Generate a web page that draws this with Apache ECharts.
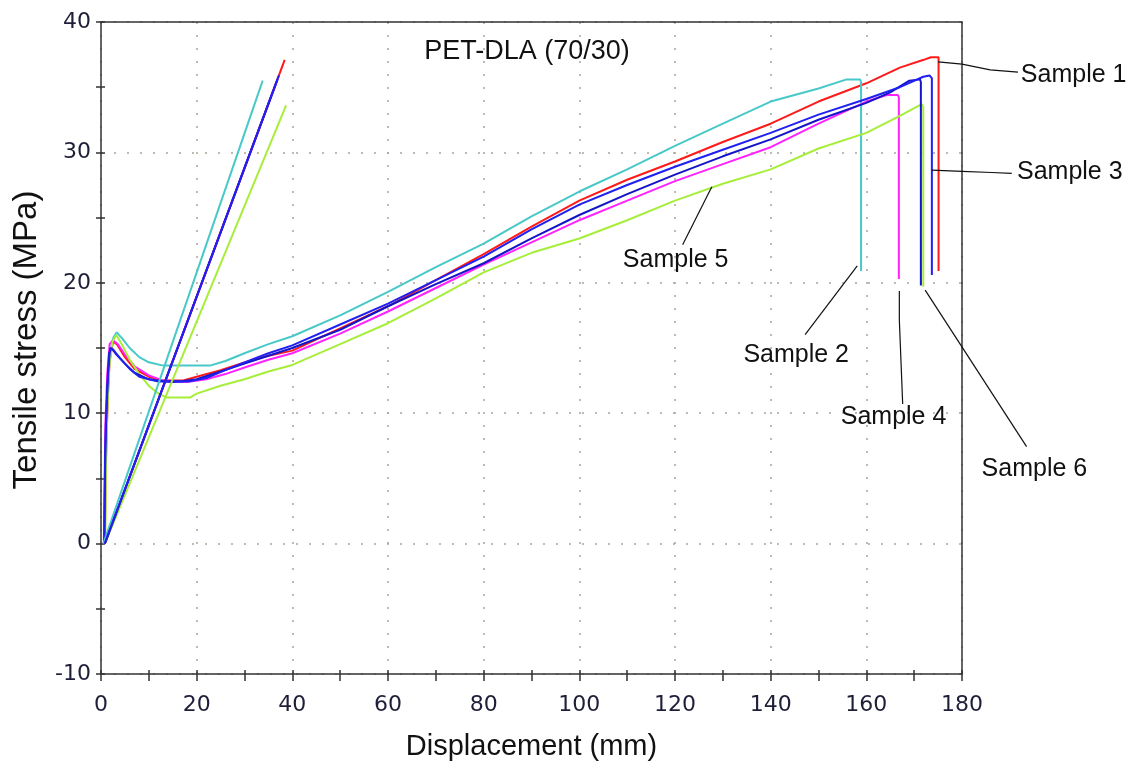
<!DOCTYPE html>
<html>
<head>
<meta charset="utf-8">
<script src="https://cdn.jsdelivr.net/npm/echarts@6/dist/echarts.min.js"></script>
<style>
  html, body { margin: 0; padding: 0; background: #ffffff; }
  #chart { width: 1127px; height: 766px; }
</style>
</head>
<body>
<div id="chart"></div>
<script>
// Tensile test, PET-DLA (70/30): stress (MPa) against displacement (mm), six specimens.
const chartTitle = 'PET-DLA (70/30)';
const xName = 'Displacement (mm)';
const yName = 'Tensile stress (MPa)';
const xRange = [0, 180];
const yRange = [-10, 40];

const sampleNames = ['Sample 1', 'Sample 2', 'Sample 3', 'Sample 4', 'Sample 5', 'Sample 6'];

// Measured curves [displacement, stress]
const curve1 = [[0.8,0],[1.0,6],[1.4,11],[1.8,14],[2.5,15.5],[3.3,15.3],[5,14.3],[7,13.4],[10,12.8],[13,12.5],[17,12.5],[20,12.8],[25,13.3],[30,13.9],[35,14.4],[40,14.8],[50,16.5],[60,18.2],[70,20.2],[80,22.2],[90,24.3],[100,26.3],[110,27.9],[120,29.3],[130,30.8],[140,32.2],[150,33.9],[160,35.3],[167,36.5],[172,37.1],[173.5,37.3],[175.1,37.3],[175.1,20.9]];
const curve2 = [[0.6,0],[0.9,6],[1.3,11],[1.8,14.5],[2.6,15.8],[3.3,16.2],[4.5,15.7],[6,15],[8,14.3],[10,13.9],[13,13.65],[18,13.65],[22.8,13.65],[26,14.0],[30,14.6],[35,15.3],[40,15.9],[50,17.5],[60,19.3],[70,21.2],[80,23.0],[90,25.1],[100,27.0],[110,28.7],[120,30.5],[130,32.2],[140,33.9],[150,34.9],[155.9,35.6],[158.7,35.6],[158.9,35.4],[158.9,20.9]];
const curve3 = [[0.7,0],[0.8,5],[1.0,9],[1.5,13],[1.9,15.0],[2.5,14.9],[4,14.2],[6,13.4],[8,12.8],[11.7,12.45],[15,12.4],[18.6,12.45],[22,12.7],[26,13.3],[30,13.9],[35,14.6],[40,15.2],[50,16.8],[60,18.4],[70,20.2],[80,22.0],[90,24.1],[100,26.0],[110,27.5],[120,28.9],[130,30.2],[140,31.5],[150,32.9],[160,34.1],[167,35.0],[171.9,35.8],[173.2,35.9],[173.7,35.7],[173.7,20.6]];
const curve4 = [[0.6,0],[0.7,3],[0.9,9],[1.3,13],[1.8,15.3],[2.5,15.6],[3.5,15.3],[5,14.5],[7,13.6],[10,12.9],[13,12.5],[18,12.4],[22,12.6],[26,13.0],[30,13.5],[35,14.1],[40,14.6],[50,16.1],[60,17.8],[70,19.6],[80,21.4],[90,23.1],[100,24.8],[110,26.3],[120,27.8],[130,29.1],[140,30.4],[150,32.2],[160,33.9],[164.3,34.4],[166.6,34.4],[166.8,34.2],[166.8,20.3]];
const curve5 = [[0.9,0],[1.0,5],[1.3,10],[1.7,13.5],[2.4,15.5],[3.2,16.0],[4.5,15.2],[6,14.1],[8,13],[10,12.1],[12,11.5],[13.8,11.2],[18.6,11.2],[20,11.5],[25,12.1],[30,12.6],[35,13.2],[40,13.7],[50,15.3],[60,16.9],[70,18.8],[80,20.8],[90,22.3],[100,23.4],[110,24.8],[120,26.3],[130,27.6],[140,28.7],[150,30.3],[160,31.5],[167,32.8],[171.6,33.7],[171.9,33.5],[171.9,19.7]];
const curve6 = [[0.7,0],[0.9,7],[1.3,12],[1.7,14.6],[2.2,15.0],[3,14.6],[5,13.8],[7,13.1],[10,12.6],[13,12.45],[17,12.45],[20,12.6],[25,13.2],[30,13.8],[35,14.4],[40,15.0],[50,16.4],[60,18.2],[70,19.9],[80,21.5],[90,23.4],[100,25.2],[110,26.8],[120,28.3],[130,29.7],[140,31.0],[150,32.5],[160,33.8],[165,34.6],[169,35.5],[171.2,35.6],[171.4,35.4],[171.4,19.8]];

// Initial-slope (modulus) lines [displacement, stress]
const slope1 = [[0.8,0],[38.4,37.1]];
const slope2 = [[0.5,0],[33.8,35.5]];
const slope3 = [[0.8,0],[37.2,35.9]];
const slope4 = [[0.8,0],[36.5,35.2]];
const slope5 = [[0.8,0],[38.7,33.6]];
const slope6 = [[0.8,0],[36.9,35.6]];

// Callout leaders and label anchors, in data units
const leader1 = [[175.0,36.94],[180,36.77],[185.9,36.33],[191.7,36.15]];
const leader2 = [[158.1,21.3],[147.2,16.02]];
const leader3 = [[173.7,28.64],[180,28.54],[186.2,28.46],[190.4,28.39]];
const leader4 = [[166.9,19.37],[166.9,17.15],[167.6,10.71]];
const leader5 = [[127.7,27.37],[121.6,22.92]];
const leader6 = [[172.3,19.44],[193.5,7.44]];
const labelAnchors = [[192.3,35.95],[134.3,14.49],[191.5,28.46],[154.65,9.67],[109.1,21.73],[184.1,5.73]];

const curves = [curve1, curve2, curve3, curve4, curve5, curve6];
const slopes = [slope1, slope2, slope3, slope4, slope5, slope6];
const leaders = [leader1, leader2, leader3, leader4, leader5, leader6];
const colors = ['#ff1a1a', '#48c8c8', '#2020f0', '#ff22ff', '#a6ee3a', '#1414c8'];
const drawOrder = [0, 1, 3, 4, 5, 2];

const textFont = '"Liberation Sans", Arial, sans-serif';
const tickFont = '"DejaVu Sans", Verdana, sans-serif';
const gridColor = '#aba596';
const axisColor = '#333333';
const textColor = '#111111';

const chart = echarts.init(document.getElementById('chart'), null, { renderer: 'canvas' });

function xAxisDef(opts) {
  return Object.assign({
    type: 'value', min: xRange[0], max: xRange[1], position: 'bottom', gridIndex: 0,
    axisLine: { show: false, onZero: false }, axisLabel: { show: false }, splitLine: { show: false }, axisTick: { show: false }
  }, opts);
}
function yAxisDef(opts) {
  return Object.assign({
    type: 'value', min: yRange[0], max: yRange[1], position: 'left', gridIndex: 0,
    axisLine: { show: false, onZero: false }, axisLabel: { show: false }, splitLine: { show: false }, axisTick: { show: false }
  }, opts);
}
const frameLine = { show: true, onZero: false, lineStyle: { color: axisColor, width: 1.5 } };
const tickStyle = { color: axisColor, width: 1.5 };

const series = [];
drawOrder.forEach(i => {
  series.push({
    name: sampleNames[i], type: 'line', data: curves[i], showSymbol: false, symbol: 'none',
    lineStyle: { color: colors[i], width: 2 }, z: 3
  });
});
drawOrder.forEach(i => {
  series.push({
    name: sampleNames[i] + ' slope', type: 'line', data: slopes[i], showSymbol: false, symbol: 'none',
    lineStyle: { color: colors[i], width: 2 }, z: 3
  });
});
series.push({
  name: 'labels', type: 'scatter', clip: false, symbolSize: 0, z: 5, silent: true,
  data: labelAnchors.map((p, i) => ({ value: p, name: sampleNames[i] })),
  label: {
    show: true, position: 'right', distance: 0, formatter: p => p.name,
    fontFamily: textFont, fontSize: 25, color: textColor, opacity: 1
  }
});

chart.setOption({
  backgroundColor: '#ffffff',
  animation: false,
  title: {
    text: chartTitle, left: 522, top: 33, textAlign: 'center',
    textStyle: { fontFamily: textFont, fontSize: 27, fontWeight: 'normal', color: textColor }
  },
  grid: { left: 101, right: 165, top: 22, bottom: 89, show: false },
  xAxis: [
    xAxisDef({
      interval: 20,
      name: xName, nameLocation: 'middle', nameGap: 58,
      nameTextStyle: { fontFamily: textFont, fontSize: 29, color: textColor },
      axisLine: frameLine,
      axisLabel: { show: true, margin: 20, fontFamily: tickFont, fontSize: 22, color: '#1e1e38' },
      splitLine: { show: true, lineStyle: { color: gridColor, width: 1.5, type: [2, 11] } }
    }),
    xAxisDef({ interval: 10, axisTick: { show: true, inside: false, length: 7, lineStyle: tickStyle } }),
    xAxisDef({ interval: 10, axisTick: { show: true, inside: true, length: 4, lineStyle: tickStyle } }),
    xAxisDef({ position: 'top', axisLine: frameLine })
  ],
  yAxis: [
    yAxisDef({
      interval: 10,
      name: yName, nameLocation: 'middle', nameGap: 58,
      nameTextStyle: { fontFamily: textFont, fontSize: 33, color: textColor, padding: [0, 0, 0, 16] },
      axisLine: frameLine,
      axisLabel: { show: true, margin: 10, fontFamily: tickFont, fontSize: 22, color: '#1e1e38' },
      splitLine: { show: true, lineStyle: { color: gridColor, width: 1.5, type: [2, 11] } }
    }),
    yAxisDef({ interval: 5, axisTick: { show: true, inside: false, length: 5, lineStyle: tickStyle } }),
    yAxisDef({ interval: 5, axisTick: { show: true, inside: true, length: 4, lineStyle: tickStyle } }),
    yAxisDef({ position: 'right', axisLine: frameLine })
  ],
  series: series
});

// Callout leader lines, placed through the axes' own scales (they run past the plot frame)
chart.setOption({
  graphic: leaders.map(pts => ({
    type: 'polyline', silent: true, z: 10,
    shape: { points: pts.map(p => chart.convertToPixel({ xAxisIndex: 0, yAxisIndex: 0 }, p)) },
    style: { stroke: '#111111', lineWidth: 1.2, fill: null }
  }))
});
</script>
</body>
</html>
